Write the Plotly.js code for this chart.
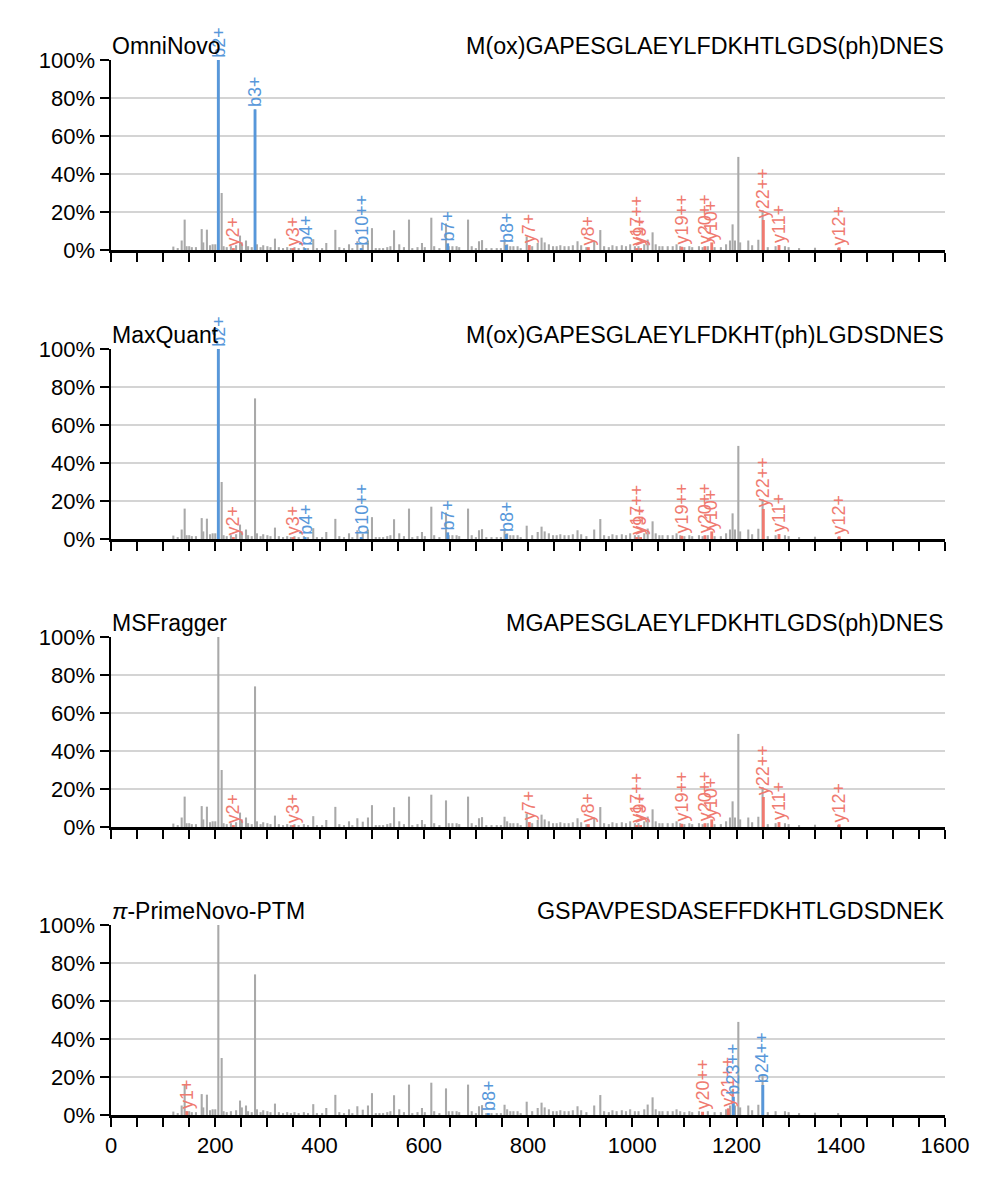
<!DOCTYPE html>
<html>
<head>
<meta charset="utf-8">
<script src="https://cdn.plot.ly/plotly-3.0.1.min.js"></script>
<style>html,body{margin:0;padding:0;background:#fff;}#chart{width:998px;height:1186px;}</style>
</head>
<body>
<div id="chart"></div>
<script>
// ---------- shared spectrum (m/z, relative intensity %) ----------
const spectrumMz = [119.6,128,135.6,141.3,145,150,155,163,174,177,184,190,195,200,205.9,212.3,216,222,230,240,247.5,251,259,263,270,276.3,280,287,292,300,306,314.6,322,330,338,345,352,360,370,378,388,395,405,413,430.4,438,447,456.6,463,472.6,483,493,500.7,508,515,522,530,536,543,553,562,571.7,578,588,596.6,602,614.5,620,630,642.7,648,655,663,668,685,692,700,706,711.8,720,730,740,748,755,760,766,772,780,786,797.5,808,818.6,826,832,840,848,855,862,870,878,886,895,902,912,927,938.7,946,955,962,970,980,988,996,1005,1012,1023,1029.6,1039,1045,1052,1058,1068,1077.6,1085,1092,1100,1109.5,1115,1128,1135,1145,1158,1170,1180,1187.5,1192.5,1197,1203.5,1207,1222.6,1230,1241.9,1250,1260,1275,1293,1300,1320,1350.6,1395];
const spectrumInt = [1.8,1,5,16,2,2,1.5,1.5,11,4,10.7,2.5,3,3,100,30,2,1.5,2,2.5,7.6,4,5,2,1.5,74,3,1.5,2.5,2,1.5,6,1.5,1,1.5,1,1.5,1,1.5,1,5.7,1,1,3.7,10.6,1.5,1,3,1,4.6,2.8,5,11.5,1,1,1,1.5,2,10.4,3,1.5,16,1,1.5,3.7,1.5,17,2,1,14,2,2,2,1.5,16,2,1,4.6,5.2,1,1,1,1,5.4,3,2,2,2,1,7,2,3.7,6.5,4,3,2,2,2.5,2,2,2.5,4.6,2.5,1.5,5,10.5,2,1.5,2.5,2,2.5,2,3,2,2,3,5.5,9.3,3,2,2,2,2,3,2,1.5,2,1.5,2,1.5,2,1.5,1.5,3,5,13.5,5,49,4,5,2.5,5.4,21,1.5,2,2,1.5,1,1.2,1];

// ---------- panel names and sequences ----------
const toolNames = ["OmniNovo", "MaxQuant", "MSFragger", "<i>π</i>-PrimeNovo-PTM"];
const sequences = ["M(ox)GAPESGLAEYLFDKHTLGDS(ph)DNES", "M(ox)GAPESGLAEYLFDKHT(ph)LGDSDNES", "MGAPESGLAEYLFDKHTLGDS(ph)DNES", "GSPAVPESDASEFFDKHTLGDSDNEK"];

// ---------- matched fragment ions per panel ----------
const omniIons = ["b2+","b3+","b4+","b10++","b7+","b8+","y2+","y3+","y7+","y8+","y17++","y9+","y19++","y20++","y10+","y22++","y11+","y12+"];
const omniMz   = [205.9,276.3,372.5,480,646,758.5,234.8,349.5,802.5,915.8,1008.5,1016,1095,1139.5,1152.5,1251.5,1281.5,1397];
const omniInt  = [100,74,1,1,3.5,2.6,1,1,2.6,1.5,1,1,1.7,2,4,15.8,2.6,1.4];

const maxqIons = ["b2+","b4+","b10++","b7+","b8+","y2+","y3+","y17++","y9+","y19++","y20++","y10+","y22++","y11+","y12+"];
const maxqMz   = [205.9,372.5,480,646,758.5,234.8,349.5,1008.5,1016,1095,1139.5,1152.5,1251.5,1281.5,1397];
const maxqInt  = [100,1,1,3.5,2.6,1,1,1,1,1.7,2,4,15.8,2.6,1.4];

const msfIons = ["y2+","y3+","y7+","y8+","y17++","y9+","y19++","y20++","y10+","y22++","y11+","y12+"];
const msfMz   = [234.8,349.5,802.5,915.8,1008.5,1016,1095,1139.5,1152.5,1251.5,1281.5,1397];
const msfInt  = [1,1,2.6,1.5,1,1,1.7,2,4,15.8,2.6,1.4];

const primeIons = ["y1+","b8+","y20++","y21++","b23++","b24++"];
const primeMz   = [145.5,724,1135,1184.3,1194,1250.5];
const primeInt  = [2,1,1.7,3.5,9.6,15.8];

// ---------- axis tick labels ----------
const xTickVals = [];
for (let v = 0; v <= 1600; v += 50) xTickVals.push(v);
const xLabelVals = [0,200,400,600,800,1000,1200,1400,1600];
const yTickVals = [0,20,40,60,80,100];

const ionSets = [
  {ions: omniIons, mz: omniMz, inten: omniInt},
  {ions: maxqIons, mz: maxqMz, inten: maxqInt},
  {ions: msfIons, mz: msfMz, inten: msfInt},
  {ions: primeIons, mz: primeMz, inten: primeInt}
];

const BLUE = "#5797da", RED = "#ef7a70", GRAY = "#a9a9a9";
const FONT = "Liberation Sans, Arial, Helvetica, sans-serif";
const W = 998, H = 1186, mL = 111, mR = 53, mT = 60, mB = 71;
const plotH = H - mT - mB;
const panelTops = [60, 349, 637, 925];
const panelH = 190;

const traces = [];
const annotations = [];
const layout = {
  width: W, height: H,
  margin: {l: mL, r: mR, t: mT, b: mB, pad: 0},
  paper_bgcolor: "#fff", plot_bgcolor: "#fff",
  showlegend: false,
  barmode: "overlay",
  font: {family: FONT, size: 22, color: "#000"}
};

for (let p = 0; p < 4; p++) {
  const n = p + 1;
  const xa = n === 1 ? "x" : "x" + n;
  const ya = n === 1 ? "y" : "y" + n;
  const top = panelTops[p], bottom = top + panelH;
  const d0 = (H - mB - bottom) / plotH, d1 = (H - mB - top) / plotH;

  layout["xaxis" + (n === 1 ? "" : n)] = {
    anchor: ya, domain: [0, 1], range: [0, 1600],
    tickmode: "array", tickvals: xTickVals,
    ticktext: xTickVals.map(v => (p === 3 && xLabelVals.includes(v)) ? String(v) : ""),
    ticks: "outside", ticklen: 9, tickwidth: 2, tickcolor: "#000",
    showline: true, linecolor: "#000", linewidth: 2.5,
    showgrid: false, zeroline: false,
    tickfont: {family: FONT, size: 22, color: "#000"},
    fixedrange: true
  };
  if (n > 1) layout["xaxis" + n].matches = "x";
  layout["yaxis" + (n === 1 ? "" : n)] = {
    anchor: xa, domain: [d0, d1], range: [0, 100],
    tickmode: "array", tickvals: yTickVals, ticktext: yTickVals.map(v => v + "%"),
    ticks: "outside", ticklen: 9, tickwidth: 2, tickcolor: "#000",
    showline: true, linecolor: "#000", linewidth: 2.5,
    showgrid: true, gridcolor: "#d4d4d4", gridwidth: 2,
    zeroline: false,
    tickfont: {family: FONT, size: 22, color: "#000"},
    fixedrange: true
  };

  traces.push({
    type: "bar", x: spectrumMz, y: spectrumInt, xaxis: xa, yaxis: ya,
    width: 4, marker: {color: GRAY, line: {width: 0}}, hoverinfo: "skip"
  });

  const set = ionSets[p];
  const colors = set.ions.map(s => s[0] === "b" ? BLUE : RED);
  traces.push({
    type: "bar", x: set.mz, y: set.inten, xaxis: xa, yaxis: ya,
    width: 5.5, marker: {color: colors, line: {width: 0}}, hoverinfo: "skip"
  });
  set.ions.forEach((lab, i) => {
    annotations.push({
      xref: xa, yref: ya, x: set.mz[i], y: set.inten[i],
      text: lab, textangle: -90, showarrow: false,
      xanchor: "center", yanchor: "bottom", yshift: 1,
      font: {family: FONT, size: 18, color: colors[i]}, borderpad: 0
    });
  });

  annotations.push({
    xref: xa + " domain", yref: ya + " domain", x: 0, y: 1,
    xanchor: "left", yanchor: "bottom", showarrow: false,
    text: toolNames[p], font: {family: FONT, size: 23, color: "#000"}, borderpad: 0
  });
  annotations.push({
    xref: xa + " domain", yref: ya + " domain", x: 1, y: 1,
    xanchor: "right", yanchor: "bottom", showarrow: false,
    text: sequences[p], font: {family: FONT, size: 23.3, color: "#000"}, borderpad: 0
  });
}
layout.annotations = annotations;

Plotly.newPlot("chart", traces, layout, {displayModeBar: false, staticPlot: true});
</script>
</body>
</html>
